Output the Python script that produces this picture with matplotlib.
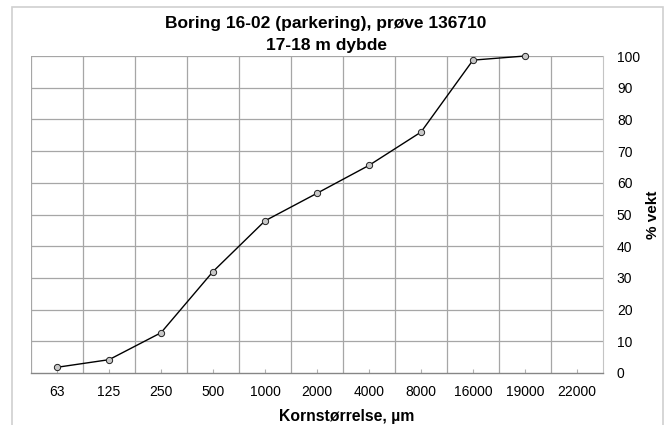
import matplotlib.pyplot as plt
from matplotlib.patches import Rectangle

# grain size classes (um) and cumulative passing (% by weight)
sizes = ["63", "125", "250", "500", "1000", "2000", "4000", "8000", "16000", "19000", "22000"]
passing = [1.8, 4.2, 12.7, 32.0, 48.0, 56.7, 65.5, 76.0, 98.7, 100.0]

plt.rcParams["font.family"] = ["Liberation Sans", "DejaVu Sans"]

fig = plt.figure(figsize=(6.7, 4.25), dpi=100)
ax = fig.add_axes([31 / 670, 52 / 425, 572 / 670, 317 / 425])

# outer chart frame
fig.patches.append(Rectangle((12.5 / 670, -0.05), 650.5 / 670, 1.05 - 7 / 425,
                             transform=fig.transFigure, fill=False,
                             edgecolor="#d0d0d0", linewidth=1.2))

x = list(range(len(sizes)))
ax.plot(x[:len(passing)], passing, color="black", linewidth=1.0, marker="o",
        markersize=4.5, markerfacecolor="#c8c8c8", markeredgecolor="#202020",
        markeredgewidth=0.7, zorder=3, clip_on=False)

ax.set_xlim(-0.5, len(sizes) - 0.5)
ax.set_ylim(0, 100)

# gridlines
for b in range(len(sizes)):
    ax.axvline(b - 0.5, color="#a6a6a6", linewidth=0.9, zorder=1)
for yv in range(10, 101, 10):
    ax.axhline(yv, color="#a6a6a6", linewidth=0.9, zorder=1)

ax.set_xticks(x)
ax.set_xticklabels(sizes, fontsize=10)
ax.set_yticks(range(0, 101, 10))
ax.yaxis.tick_right()
ax.tick_params(axis="y", length=0, pad=10, labelsize=10)
ax.tick_params(axis="x", direction="in", length=3, color="#b0b0b0", pad=9)

for s in ["top", "left"]:
    ax.spines[s].set_visible(False)
ax.spines["right"].set_color("#c4c4c4")
ax.spines["bottom"].set_color("#868686")
ax.spines["bottom"].set_linewidth(1.0)

fig.text(326 / 670, 1 - 28 / 425, "Boring 16-02 (parkering), prøve 136710",
         ha="center", va="baseline", fontsize=12.5, fontweight="bold")
fig.text(326 / 670, 1 - 50 / 425, "17-18 m dybde",
         ha="center", va="baseline", fontsize=12.5, fontweight="bold")

ax.set_xlabel("Kornstørrelse, µm", fontsize=11.3, fontweight="bold", va="center")
ax.xaxis.set_label_coords((347 - 31) / 572, -(413 - 369) / 317)
ax.set_ylabel("% vekt", fontsize=11, fontweight="bold", rotation=90, va="center")
ax.yaxis.set_label_coords((653 - 31) / 572, 0.5)

fig.savefig("out.png", dpi=100)
